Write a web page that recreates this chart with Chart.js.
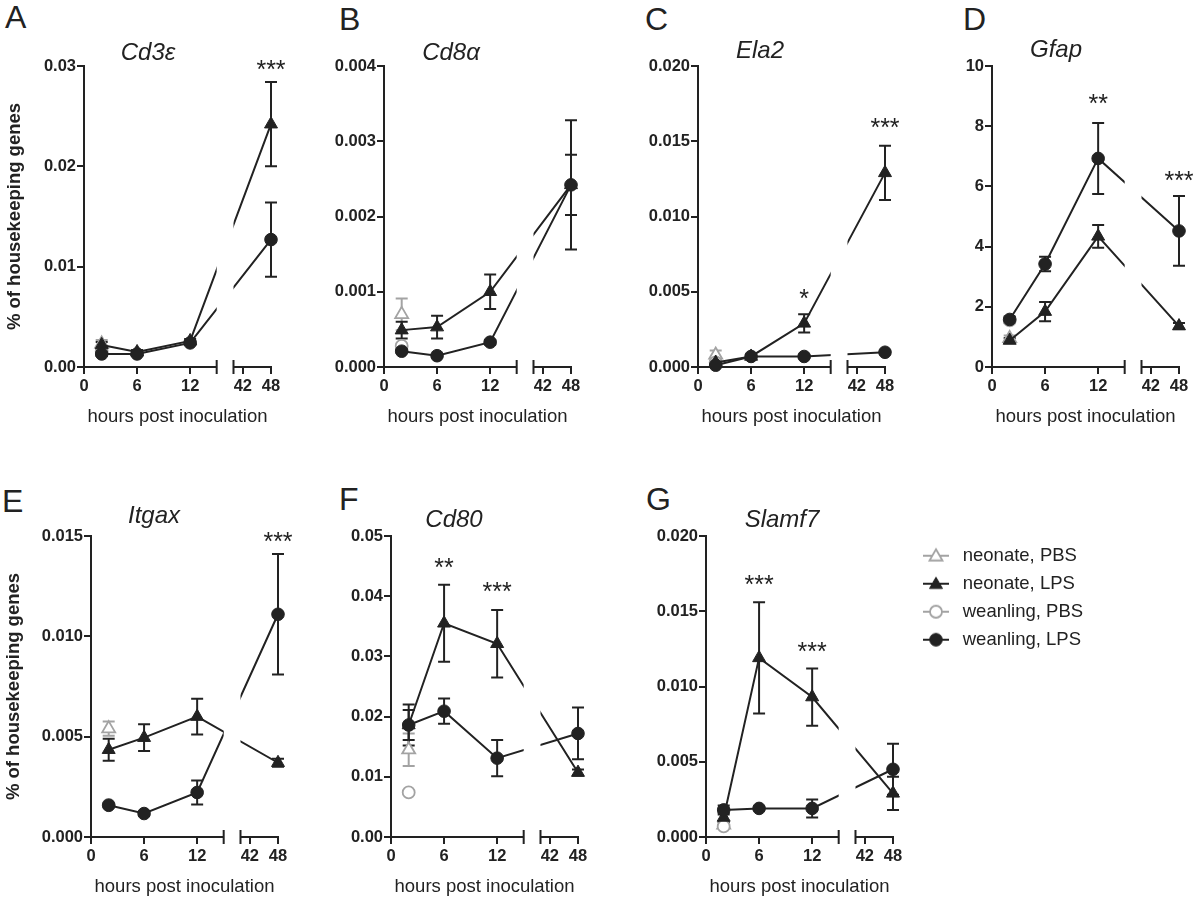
<!DOCTYPE html>
<html lang="en">
<head>
<meta charset="UTF-8">
<title>Gene expression after inoculation</title>
<script src="https://cdn.jsdelivr.net/npm/chart.js"></script>
<style>
  html, body { margin: 0; padding: 0; background: #fff; overflow: hidden; }
  body { width: 1200px; height: 899px; position: relative; font-family: "Liberation Sans", Arial, sans-serif; color: #222; }
  canvas { position: absolute; }
  .letter { position: absolute; font-size: 32px; line-height: 1; color: #222; }
</style>
</head>
<body>
<div class="letter" style="left:5px;top:1px">A</div>
<div class="letter" style="left:339px;top:3px">B</div>
<div class="letter" style="left:645px;top:3px">C</div>
<div class="letter" style="left:963px;top:3px">D</div>
<div class="letter" style="left:2px;top:485px">E</div>
<div class="letter" style="left:339px;top:483px">F</div>
<div class="letter" style="left:646px;top:483px">G</div>

<script>
// ---- data ----
const hours = [2, 6, 12, 48];
const pbsHours = [2];
const seriesNames = ['neonate, PBS', 'neonate, LPS', 'weanling, PBS', 'weanling, LPS'];
const xTickHours = [0, 6, 12, 42, 48];
const xTickLabels = ['0', '6', '12', '42', '48'];

// A  Cd3e
const cd3eTicks = [0, 0.01, 0.02, 0.03];
const cd3eLabels = ['0.00', '0.01', '0.02', '0.03'];
const cd3eNeoPbs = [0.0023], cd3eNeoPbsSem = [0.0004];
const cd3eNeoLps = [0.0022, 0.0015, 0.0026, 0.0242], cd3eNeoLpsSem = [0.0003, 0.0002, 0.0002, 0.0042];
const cd3eWeanPbs = [0.0016], cd3eWeanPbsSem = [0.0002];
const cd3eWeanLps = [0.0013, 0.0013, 0.0024, 0.0127], cd3eWeanLpsSem = [0.0002, 0.0002, 0.0002, 0.0037];
const cd3eStarHours = [48], cd3eStarVals = [0.0302], cd3eStarText = ['***'];

// B  Cd8a
const cd8aTicks = [0, 0.001, 0.002, 0.003, 0.004];
const cd8aLabels = ['0.000', '0.001', '0.002', '0.003', '0.004'];
const cd8aNeoPbs = [0.0007], cd8aNeoPbsSem = [0.00021];
const cd8aNeoLps = [0.00049, 0.00053, 0.001, 0.00242], cd8aNeoLpsSem = [0.00011, 0.00015, 0.00023, 0.0004];
const cd8aWeanPbs = [0.00028], cd8aWeanPbsSem = [0.00003];
const cd8aWeanLps = [0.00021, 0.00015, 0.00033, 0.00242], cd8aWeanLpsSem = [0.00002, 0.00002, 0.00003, 0.00086];
const cd8aStarHours = [], cd8aStarVals = [], cd8aStarText = [];

// C  Ela2
const ela2Ticks = [0, 0.005, 0.01, 0.015, 0.02];
const ela2Labels = ['0.000', '0.005', '0.010', '0.015', '0.020'];
const ela2NeoPbs = [0.0008], ela2NeoPbsSem = [0.0003];
const ela2NeoLps = [0.0003, 0.0007, 0.0029, 0.0129], ela2NeoLpsSem = [0.0001, 0.0001, 0.0006, 0.0018];
const ela2WeanPbs = [0.0003], ela2WeanPbsSem = [0.0001];
const ela2WeanLps = [0.00012, 0.0007, 0.0007, 0.00098], ela2WeanLpsSem = [0.00005, 0.0001, 0.0001, 0.0001];
const ela2StarHours = [12, 48], ela2StarVals = [0.0049, 0.0163], ela2StarText = ['*', '***'];

// D  Gfap
const gfapTicks = [0, 2, 4, 6, 8, 10];
const gfapLabels = ['0', '2', '4', '6', '8', '10'];
const gfapNeoPbs = [0.95], gfapNeoPbsSem = [0.1];
const gfapNeoLps = [0.88, 1.84, 4.34, 1.36], gfapNeoLpsSem = [0.08, 0.32, 0.38, 0.1];
const gfapWeanPbs = [1.55], gfapWeanPbsSem = [0.1];
const gfapWeanLps = [1.58, 3.42, 6.93, 4.52], gfapWeanLpsSem = [0.1, 0.24, 1.18, 1.16];
const gfapStarHours = [12, 48], gfapStarVals = [8.93, 6.38], gfapStarText = ['**', '***'];

// E  Itgax
const itgaxTicks = [0, 0.005, 0.01, 0.015];
const itgaxLabels = ['0.000', '0.005', '0.010', '0.015'];
const itgaxNeoPbs = [0.0054], itgaxNeoPbsSem = [0.00035];
const itgaxNeoLps = [0.00435, 0.00495, 0.006, 0.0037], itgaxNeoLpsSem = [0.00055, 0.00067, 0.00089, 0.0002];
const itgaxWeanPbs = [0.0016], itgaxWeanPbsSem = [0.0001];
const itgaxWeanLps = [0.00158, 0.00117, 0.00222, 0.0111], itgaxWeanLpsSem = [0.0001, 0.0001, 0.0006, 0.003];
const itgaxStarHours = [48], itgaxStarVals = [0.015], itgaxStarText = ['***'];

// F  Cd80
const cd80Ticks = [0, 0.01, 0.02, 0.03, 0.04, 0.05];
const cd80Labels = ['0.00', '0.01', '0.02', '0.03', '0.04', '0.05'];
const cd80NeoPbs = [0.0145], cd80NeoPbsSem = [0.0027];
const cd80NeoLps = [0.0186, 0.0355, 0.0321, 0.0107], cd80NeoLpsSem = [0.0034, 0.0064, 0.0056, 0.0005];
const cd80WeanPbs = [0.0074], cd80WeanPbsSem = [0.0003];
const cd80WeanLps = [0.0186, 0.0209, 0.0131, 0.0172], cd80WeanLpsSem = [0.0025, 0.0021, 0.003, 0.0043];
const cd80StarHours = [6, 12], cd80StarVals = [0.0457, 0.0417], cd80StarText = ['**', '***'];

// G  Slamf7
const slamf7Ticks = [0, 0.005, 0.01, 0.015, 0.02];
const slamf7Labels = ['0.000', '0.005', '0.010', '0.015', '0.020'];
const slamf7NeoPbs = [0.0008], slamf7NeoPbsSem = [0.0002];
const slamf7NeoLps = [0.0013, 0.0119, 0.0093, 0.0029], slamf7NeoLpsSem = [0.0003, 0.0037, 0.0019, 0.0011];
const slamf7WeanPbs = [0.0007], slamf7WeanPbsSem = [0.0001];
const slamf7WeanLps = [0.0018, 0.0019, 0.0019, 0.0045], slamf7WeanLpsSem = [0.0003, 0.0001, 0.0006, 0.0017];
const slamf7StarHours = [6, 12], slamf7StarVals = [0.01717, 0.01269], slamf7StarText = ['***', '***'];

// ---- broken time axis: 0-15 h, gap, 40-48 h compressed ----
const SEG1_END = 15, SEG2_START = 16.9, SEG2_FROM_HOUR = 40, SEG2_SCALE = 0.53;
function hourPos(h) {
    return h <= SEG1_END ? h : SEG2_START + (h - SEG2_FROM_HOUR) * SEG2_SCALE;
}

const ink = '#222';
const grey = '#a3a3a3';
const family = '"Liberation Sans", Arial, sans-serif';

const styles = [
    { shape: 'triangle', color: grey, fill: '#fff', r: 7.5, bw: 1.8, order: 3 },
    { shape: 'triangle', color: ink, fill: ink, r: 7.5, bw: 1, order: 1 },
    { shape: 'circle', color: grey, fill: '#fff', r: 6, bw: 1.8, order: 2 },
    { shape: 'circle', color: ink, fill: ink, r: 6.3, bw: 1, order: 0 },
];

const panels = [
    { gene: 'Cd3ε', left: 84, top: 66, ticks: cd3eTicks, labels: cd3eLabels,
      series: [[pbsHours, cd3eNeoPbs, cd3eNeoPbsSem], [hours, cd3eNeoLps, cd3eNeoLpsSem], [pbsHours, cd3eWeanPbs, cd3eWeanPbsSem], [hours, cd3eWeanLps, cd3eWeanLpsSem]],
      stars: [cd3eStarHours, cd3eStarVals, cd3eStarText], titleDx: 64, titleDy: -6, yTitlePad: 10 },
    { gene: 'Cd8α', left: 384, top: 66, ticks: cd8aTicks, labels: cd8aLabels,
      series: [[pbsHours, cd8aNeoPbs, cd8aNeoPbsSem], [hours, cd8aNeoLps, cd8aNeoLpsSem], [pbsHours, cd8aWeanPbs, cd8aWeanPbsSem], [hours, cd8aWeanLps, cd8aWeanLpsSem]],
      stars: [cd8aStarHours, cd8aStarVals, cd8aStarText], titleDx: 67, titleDy: -6 },
    { gene: 'Ela2', left: 698, top: 66, ticks: ela2Ticks, labels: ela2Labels,
      series: [[pbsHours, ela2NeoPbs, ela2NeoPbsSem], [hours, ela2NeoLps, ela2NeoLpsSem], [pbsHours, ela2WeanPbs, ela2WeanPbsSem], [hours, ela2WeanLps, ela2WeanLpsSem]],
      stars: [ela2StarHours, ela2StarVals, ela2StarText], titleDx: 62, titleDy: -8 },
    { gene: 'Gfap', left: 992, top: 66, ticks: gfapTicks, labels: gfapLabels,
      series: [[pbsHours, gfapNeoPbs, gfapNeoPbsSem], [hours, gfapNeoLps, gfapNeoLpsSem], [pbsHours, gfapWeanPbs, gfapWeanPbsSem], [hours, gfapWeanLps, gfapWeanLpsSem]],
      stars: [gfapStarHours, gfapStarVals, gfapStarText], titleDx: 64, titleDy: -9 },
    { gene: 'Itgax', left: 91, top: 536, ticks: itgaxTicks, labels: itgaxLabels,
      series: [[pbsHours, itgaxNeoPbs, itgaxNeoPbsSem], [hours, itgaxNeoLps, itgaxNeoLpsSem], [pbsHours, itgaxWeanPbs, itgaxWeanPbsSem], [hours, itgaxWeanLps, itgaxWeanLpsSem]],
      stars: [itgaxStarHours, itgaxStarVals, itgaxStarText], titleDx: 63, titleDy: -13, yTitlePad: 2 },
    { gene: 'Cd80', left: 391, top: 536, ticks: cd80Ticks, labels: cd80Labels,
      series: [[pbsHours, cd80NeoPbs, cd80NeoPbsSem], [hours, cd80NeoLps, cd80NeoLpsSem], [pbsHours, cd80WeanPbs, cd80WeanPbsSem], [hours, cd80WeanLps, cd80WeanLpsSem]],
      stars: [cd80StarHours, cd80StarVals, cd80StarText], titleDx: 63, titleDy: -9 },
    { gene: 'Slamf7', left: 706, top: 536, ticks: slamf7Ticks, labels: slamf7Labels,
      series: [[pbsHours, slamf7NeoPbs, slamf7NeoPbsSem], [hours, slamf7NeoLps, slamf7NeoLpsSem], [pbsHours, slamf7WeanPbs, slamf7WeanPbsSem], [hours, slamf7WeanLps, slamf7WeanLpsSem]],
      stars: [slamf7StarHours, slamf7StarVals, slamf7StarText], titleDx: 76, titleDy: -9 },
];

const Y_WIDTH = 90, PAD_TOP = 60, X_HEIGHT = 69, PLOT_W = 187, PLOT_H = 301;
const CANVAS_W = Y_WIDTH + PLOT_W + 23, CANVAS_H = PAD_TOP + PLOT_H + X_HEIGHT;

// error bars, line break, broken x axis, gene title and stars
const panelDecor = {
    id: 'panelDecor',
    beforeDatasetsDraw(chart) {
        const { ctx, scales: { x, y } } = chart;
        const g0 = x.getPixelForValue(SEG1_END), g1 = x.getPixelForValue(SEG2_START);
        ctx.save();
        ctx.beginPath();
        ctx.rect(0, 0, chart.width, chart.height);
        ctx.rect(g0, 0, g1 - g0, chart.height);
        ctx.clip('evenodd');
        chart.data.datasets.slice().sort((a, b) => b.order - a.order).forEach(ds => {
            ctx.strokeStyle = ds.borderColor;
            ctx.lineWidth = 2;
            ctx.beginPath();
            ds.data.forEach((p, i) => {
                const e = ds.sem[i];
                if (!e) return;
                const px = x.getPixelForValue(p.x);
                const top = y.getPixelForValue(p.y + e);
                const bot = y.getPixelForValue(p.y - e);
                ctx.moveTo(px, top); ctx.lineTo(px, bot);
                ctx.moveTo(px - 6, top); ctx.lineTo(px + 6, top);
                ctx.moveTo(px - 6, bot); ctx.lineTo(px + 6, bot);
            });
            ctx.stroke();
        });
    },
    afterDatasetsDraw(chart) {
        const { ctx, chartArea: a, scales: { x, y } } = chart;
        ctx.restore();
        const yb = a.bottom;
        const s1 = x.getPixelForValue(SEG1_END), s2 = x.getPixelForValue(SEG2_START);
        ctx.save();
        ctx.strokeStyle = ink;
        ctx.lineWidth = 2;
        ctx.beginPath();
        ctx.moveTo(a.left - 1, yb); ctx.lineTo(s1, yb);
        ctx.moveTo(s2, yb); ctx.lineTo(x.getPixelForValue(hourPos(48)) + 1, yb);
        ctx.moveTo(s1, yb - 7); ctx.lineTo(s1, yb + 7);
        ctx.moveTo(s2, yb - 7); ctx.lineTo(s2, yb + 7);
        ctx.stroke();

        const opt = chart.options.plugins.panelDecor;
        ctx.fillStyle = ink;
        ctx.textAlign = 'center';
        ctx.textBaseline = 'alphabetic';
        ctx.font = 'italic 24px ' + family;
        ctx.fillText(opt.gene, a.left + opt.titleDx, a.top + opt.titleDy);

        const [sh, sv, st] = opt.stars;
        ctx.font = '25px ' + family;
        sh.forEach((h, i) => {
            ctx.fillText(st[i], x.getPixelForValue(hourPos(h)), y.getPixelForValue(sv[i]) + 14);
        });
        ctx.restore();
    }
};

function makeDataset(name, hrs, vals, sem, st) {
    return {
        label: name,
        data: vals.map((v, i) => ({ x: hourPos(hrs[i]), y: v })),
        sem: sem,
        showLine: hrs.length > 1,
        borderColor: st.color,
        borderWidth: 2,
        pointStyle: st.shape,
        pointRadius: st.r,
        pointHoverRadius: st.r,
        pointBackgroundColor: st.fill,
        pointBorderColor: st.color,
        pointBorderWidth: st.bw,
        tension: 0,
        clip: false,
        fill: false,
        order: st.order,
    };
}

panels.forEach(p => {
    const canvas = document.createElement('canvas');
    canvas.width = CANVAS_W;
    canvas.height = CANVAS_H;
    canvas.style.left = (p.left - Y_WIDTH) + 'px';
    canvas.style.top = (p.top - PAD_TOP) + 'px';
    document.body.appendChild(canvas);

    const datasets = p.series.map((s, i) => makeDataset(seriesNames[i], s[0], s[1], s[2], styles[i]));

    new Chart(canvas.getContext('2d'), {
        type: 'line',
        data: { datasets },
        options: {
            responsive: false,
            animation: false,
            events: [],
            devicePixelRatio: 1,
            layout: { padding: { top: PAD_TOP, right: CANVAS_W - Y_WIDTH - PLOT_W, bottom: 0, left: 0 } },
            scales: {
                x: {
                    type: 'linear',
                    min: 0,
                    max: hourPos(48),
                    afterBuildTicks: s => { s.ticks = xTickHours.map(h => ({ value: hourPos(h) })); },
                    afterFit: s => { s.height = X_HEIGHT; },
                    ticks: {
                        callback: (v, i) => xTickLabels[i],
                        font: { family, size: 16.5, weight: 'bold' },
                        color: ink, maxRotation: 0, autoSkip: false, padding: 3,
                    },
                    grid: { drawOnChartArea: false, drawTicks: true, tickLength: 7, color: ink, lineWidth: 2 },
                    border: { display: false },
                    title: {
                        display: true, text: 'hours post inoculation',
                        font: { family, size: 18.5 }, color: ink,
                        padding: { top: 0, bottom: 8 },
                    },
                },
                y: {
                    type: 'linear',
                    min: p.ticks[0],
                    max: p.ticks[p.ticks.length - 1],
                    afterBuildTicks: s => { s.ticks = p.ticks.map(v => ({ value: v })); },
                    afterFit: s => { s.width = Y_WIDTH; },
                    ticks: {
                        callback: (v, i) => p.labels[i],
                        font: { family, size: 16.5, weight: 'bold' },
                        color: ink, padding: 1, autoSkip: false,
                    },
                    grid: { drawOnChartArea: false, drawTicks: true, tickLength: 7, color: ink, lineWidth: 2 },
                    border: { display: true, color: ink, width: 2 },
                    title: {
                        display: p.yTitlePad !== undefined,
                        text: '% of housekeeping genes',
                        font: { family, size: 18.5, weight: 'bold' }, color: ink,
                        padding: { top: p.yTitlePad || 0, bottom: 0 },
                    },
                },
            },
            plugins: {
                legend: { display: false },
                tooltip: { enabled: false },
                panelDecor: { gene: p.gene, titleDx: p.titleDx, titleDy: p.titleDy, stars: p.stars },
            },
        },
        plugins: [panelDecor],
    });
});

// ---- legend ----
function legendIcon(st) {
    const c = document.createElement('canvas');
    c.width = 26; c.height = 18;
    const g = c.getContext('2d');
    g.strokeStyle = st.color;
    g.lineWidth = 2;
    g.beginPath(); g.moveTo(0, 9); g.lineTo(26, 9); g.stroke();
    g.fillStyle = st.fill;
    g.strokeStyle = st.color;
    g.lineWidth = st.bw;
    Chart.helpers.drawPoint(g, { pointStyle: st.shape, radius: st.r, borderWidth: st.bw, rotation: 0 }, 13, st.shape === 'triangle' ? 10 : 9);
    return c;
}

const legendCanvas = document.createElement('canvas');
legendCanvas.width = 400;
legendCanvas.height = 140;
legendCanvas.style.left = '909px';
legendCanvas.style.top = '537px';
document.body.appendChild(legendCanvas);

const legendIcons = styles.map(legendIcon);

new Chart(legendCanvas.getContext('2d'), {
    type: 'line',
    data: { datasets: seriesNames.map(n => ({ label: n, data: [] })) },
    options: {
        responsive: false,
        animation: false,
        events: [],
        devicePixelRatio: 1,
        scales: { x: { display: false }, y: { display: false } },
        plugins: {
            tooltip: { enabled: false },
            legend: {
                position: 'left',
                align: 'start',
                labels: {
                    usePointStyle: true,
                    pointStyleWidth: 35,
                    padding: 9.5,
                    color: ink,
                    font: { family, size: 18.5 },
                    generateLabels: chart => seriesNames.map((n, i) => ({
                        text: n,
                        pointStyle: legendIcons[i],
                        fillStyle: styles[i].fill,
                        strokeStyle: styles[i].color,
                        lineWidth: 0,
                        hidden: false,
                        datasetIndex: i,
                        fontColor: ink,
                    })),
                },
            },
        },
    },
});
</script>
</body>
</html>
